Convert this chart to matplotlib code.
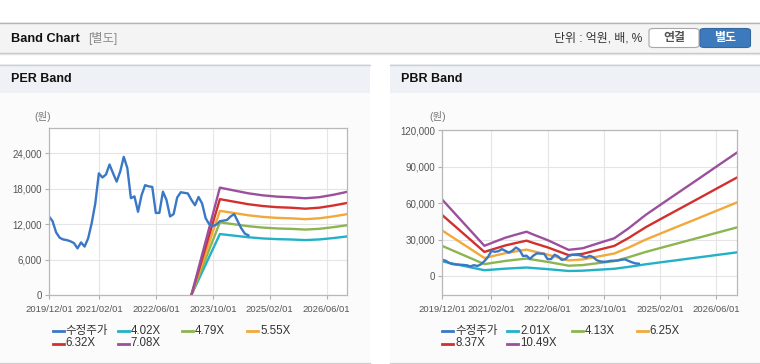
import matplotlib
matplotlib.use("Agg")
import matplotlib.pyplot as plt
from matplotlib.patches import Rectangle, FancyBboxPatch
from matplotlib.lines import Line2D

# ---------------- data ----------------
# x = months since 2019/12/01
x_tick_months = [0, 14, 30, 46, 62, 78]
x_tick_labels = ["2019/12/01", "2021/02/01", "2022/06/01", "2023/10/01", "2025/02/01", "2026/06/01"]

price_months = list(range(57))
price = [13300, 12500, 10600, 9700, 9400, 9300, 9100, 8800, 7900, 8900, 8200, 9600,
         12200, 15500, 20600, 19900, 20400, 22100, 20600, 19200, 20900, 23400, 21500,
         16400, 16700, 14100, 16900, 18600, 18400, 18300, 13900, 13900, 17500, 16100,
         13300, 13700, 16500, 17400, 17300, 17200, 16100, 15200, 16600, 15500, 13000,
         12000, 11700, 11900, 12500, 12600, 12700, 13300, 13700, 12500, 11300, 10400, 10100]

per_band_months = [40, 48, 52, 56, 60, 64, 68, 72, 76, 80, 84]
per_labels = ["4.02X", "4.79X", "5.55X", "6.32X", "7.08X"]
per_b1 = [0, 10320, 10050, 9780, 9580, 9460, 9400, 9300, 9410, 9650, 9940]
per_b2 = [0, 12300, 11980, 11650, 11420, 11270, 11200, 11080, 11210, 11500, 11840]
per_b3 = [0, 14250, 13880, 13500, 13230, 13060, 12980, 12840, 12990, 13320, 13720]
per_b4 = [0, 16230, 15800, 15370, 15070, 14870, 14780, 14620, 14790, 15170, 15620]
per_b5 = [0, 18180, 17700, 17220, 16880, 16660, 16550, 16380, 16570, 16990, 17500]

pbr_band_months = [0, 12, 15, 18, 21, 24, 26, 30, 33, 36, 40, 44, 49, 53, 58, 63, 68, 73, 78, 84]
pbr_labels = ["2.01X", "4.13X", "6.25X", "8.37X", "10.49X"]
pbr_b1 = [12010, 4750, 5400, 6040, 6510, 6980, 6510, 5650, 4890, 4120, 4370, 5080, 5940, 7460, 9640, 11540, 13410, 15290, 17190, 19450]
pbr_b2 = [24690, 9760, 11100, 12400, 13390, 14330, 13390, 11610, 10040, 8470, 8970, 10430, 12200, 15340, 19800, 23700, 27560, 31420, 35320, 39960]
pbr_b3 = [37360, 14780, 16800, 18770, 20260, 21690, 20260, 17580, 15190, 12810, 13580, 15790, 18470, 23230, 29970, 35870, 41710, 47540, 53440, 60480]
pbr_b4 = [50030, 19790, 22500, 25140, 27130, 29040, 27130, 23540, 20350, 17160, 18190, 21140, 24730, 31110, 40130, 48040, 55850, 63670, 71570, 80990]
pbr_b5 = [62700, 24800, 28200, 31500, 34000, 36400, 34000, 29500, 25500, 21500, 22800, 26500, 31000, 39000, 50300, 60200, 70000, 79800, 89700, 101500]

per_yticks = [0, 6000, 12000, 18000, 24000]
pbr_yticks = [0, 30000, 60000, 90000, 120000]

price_label = "수정주가"
price_color = "#3a78c6"
band_colors = ["#22b1c6", "#8cb552", "#f2a83a", "#d2302c", "#9b4f9c"]

# ---------------- figure ----------------
W, H = 760, 364
fig = plt.figure(figsize=(W / 100, H / 100), dpi=100)
fig.patch.set_facecolor("white")
FONT = ["Liberation Sans", "Noto Sans CJK KR", "DejaVu Sans"]


def fx(x):
    return x / W


def fy(y):
    return 1 - y / H


def rect(x0, y0, x1, y1, **kw):
    fig.add_artist(Rectangle((fx(x0), fy(y1)), fx(x1) - fx(x0), fy(y0) - fy(y1),
                             transform=fig.transFigure, zorder=-5, **kw))


def hline(x0, x1, y, color, lw=1.0):
    fig.add_artist(Line2D([fx(x0), fx(x1)], [fy(y), fy(y)], transform=fig.transFigure,
                          color=color, lw=lw, zorder=-4))


def text(x, y, s, **kw):
    kw.setdefault("family", FONT)
    fig.text(fx(x), fy(y), s, **kw)


# title bar
rect(0, 22, 760, 53, facecolor="#f4f4f4", edgecolor="none")
hline(0, 760, 22.5, "#b5b5b5", 1.0)
hline(0, 760, 53, "#c4c4c4", 1.0)
hline(0, 760, 54, "#e4e4e4", 1.0)
text(11, 38.5, "Band Chart", fontsize=9.2, fontweight="bold", color="#111111", va="center")
text(88, 38.5, "[별도]", fontsize=8.8, color="#8a8a8a", va="center")
text(642, 38.5, "단위 : 억원, 배, %", fontsize=8.6, color="#333333", va="center", ha="right")

fig.add_artist(FancyBboxPatch((fx(649), fy(47.5)), fx(699) - fx(649), fy(28.5) - fy(47.5),
                              boxstyle="round,pad=0,rounding_size=0.006", transform=fig.transFigure,
                              facecolor="white", edgecolor="#a8a8a8", lw=0.8, zorder=-3))
fig.add_artist(FancyBboxPatch((fx(700), fy(47.5)), fx(750.5) - fx(700), fy(28.5) - fy(47.5),
                              boxstyle="round,pad=0,rounding_size=0.006", transform=fig.transFigure,
                              facecolor="#3c7abd", edgecolor="#35689f", lw=0.8, zorder=-3))
text(674, 38.5, "연결", fontsize=8.6, fontweight="bold", color="#555555", va="center", ha="center")
text(725, 38.5, "별도", fontsize=8.6, fontweight="bold", color="white", va="center", ha="center")

# panels
for (px0, px1, title) in [(0, 370, "PER Band"), (390, 760, "PBR Band")]:
    rect(px0, 64, px1, 93, facecolor="#eef1f6", edgecolor="none")
    rect(px0, 93, px1, 362, facecolor="#fbfbfb", edgecolor="none")
    hline(px0, px1, 64.5, "#cfcfcf", 1.0)
    hline(px0, px1, 362.5, "#cfcfcf", 1.0)
    text(px0 + 11, 79.5, title, fontsize=9, fontweight="bold", color="#111111", va="center")


def make_axes(left, right, top, bottom):
    ax = fig.add_axes([fx(left), fy(bottom), fx(right) - fx(left), fy(top) - fy(bottom)])
    ax.set_zorder(2)
    ax.set_facecolor("white")
    for s in ax.spines.values():
        s.set_color("#b8b8b8")
        s.set_linewidth(0.9)
    ax.grid(True, color="#e5e5e5", lw=0.8)
    ax.set_axisbelow(True)
    ax.tick_params(axis="both", colors="#b0b0b0", length=3, width=0.8, labelcolor="#555555",
                   labelsize=7, pad=2)
    ax.tick_params(axis="x", pad=4)
    ax.set_xticks(x_tick_months)
    ax.set_xticklabels(x_tick_labels, family=FONT, fontsize=6.8)
    return ax


# PER chart
ax1 = make_axes(49, 347, 128.3, 295)
ax1.set_xlim(0, 83.7)
ax1.set_ylim(0, 28230)
ax1.set_yticks(per_yticks)
ax1.set_yticklabels([f"{v:,}" for v in per_yticks], family=FONT, fontsize=7)
per_bands = [per_b1, per_b2, per_b3, per_b4, per_b5]
for vals, c in zip(per_bands, band_colors):
    ax1.plot(per_band_months, vals, color=c, lw=1.7)
ax1.plot(price_months, price, color=price_color, lw=1.7)

# PBR chart
ax2 = make_axes(442.3, 737.3, 130, 295)
ax2.set_xlim(0, 84.07)
ax2.set_ylim(-15616, 120000)
ax2.set_yticks(pbr_yticks)
ax2.set_yticklabels([f"{v:,}" for v in pbr_yticks], family=FONT, fontsize=7)
pbr_bands = [pbr_b1, pbr_b2, pbr_b3, pbr_b4, pbr_b5]
for vals, c in zip(pbr_bands, band_colors):
    ax2.plot(pbr_band_months, vals, color=c, lw=1.7)
ax2.plot(price_months, price, color=price_color, lw=1.7)

# unit labels
text(43, 117, "(원)", fontsize=7.5, color="#777777", ha="center", va="center")
text(437.5, 117, "(원)", fontsize=7.5, color="#777777", ha="center", va="center")


# legends
def legend(x0, labels, colors):
    slots = [0, 65, 129.5, 194.5]
    rows = [330.7, 343.5]
    for i, (lab, c) in enumerate(zip(labels, colors)):
        r, k = divmod(i, 4)
        xs = x0 + slots[k]
        y = rows[r]
        fig.add_artist(Line2D([fx(xs), fx(xs + 11)], [fy(y), fy(y)], transform=fig.transFigure,
                              color=c, lw=2.0))
        text(xs + 13, y, lab, fontsize=8.3, color="#333333", va="center")


legend(52.7, [price_label] + per_labels, [price_color] + band_colors)
legend(442.3, [price_label] + pbr_labels, [price_color] + band_colors)

fig.savefig("out.png", dpi=100, facecolor="white")
